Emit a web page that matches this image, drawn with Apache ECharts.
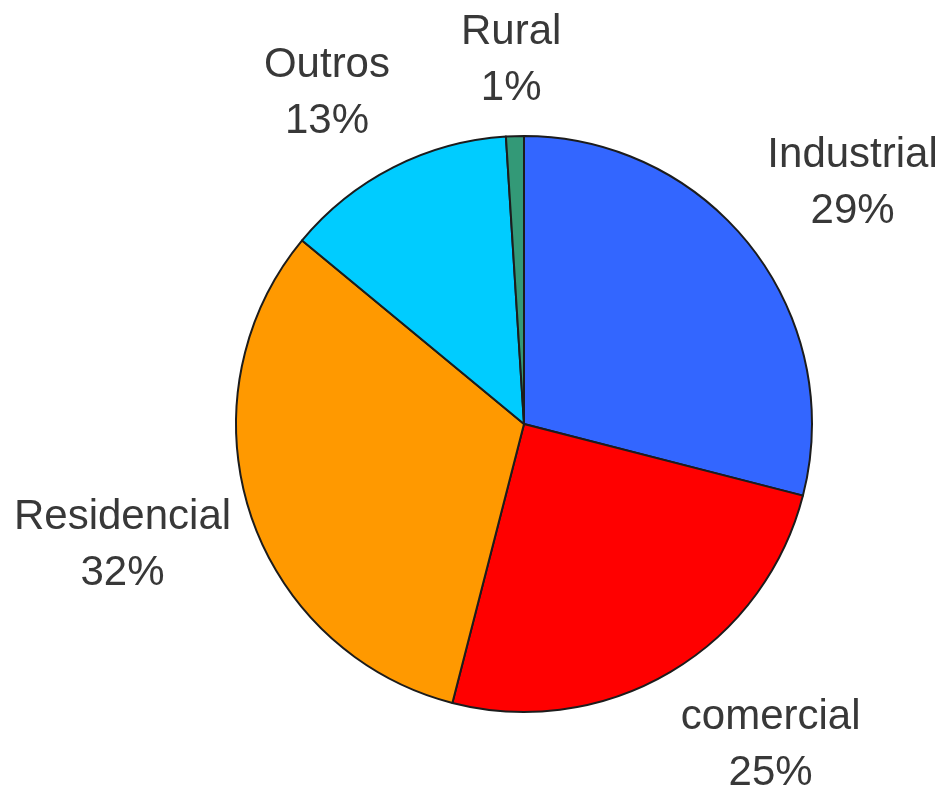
<!DOCTYPE html>
<html>
<head>
<meta charset="utf-8">
<title>Consumo por classe</title>
<script src="https://cdn.jsdelivr.net/npm/echarts@6/dist/echarts.min.js"></script>
<style>
  html, body { margin: 0; padding: 0; background: #ffffff; }
  #chart { width: 942px; height: 792px; }
</style>
</head>
<body>
<div id="chart"></div>
<script>
// Share of consumption by class (percent), clockwise from 12 o'clock
const categories = ['Industrial', 'comercial', 'Residencial', 'Outros', 'Rural'];
const shares = [29, 25, 32, 13, 1];
const sliceColors = ['#3366ff', '#ff0000', '#ff9900', '#00ccff', '#339977'];

const CX = 524, CY = 424, R = 288;
const START_ANGLE = 90;
const LABEL_GAP = 20;

const total = shares.reduce((a, b) => a + b, 0);
const cumulative = [];
shares.reduce((acc, v, i) => { cumulative[i] = acc; return acc + v; }, 0);

const clamp = v => Math.max(-1, Math.min(1, v));

const chart = echarts.init(document.getElementById('chart'), null, { renderer: 'canvas' });

chart.setOption({
  backgroundColor: '#ffffff',
  animation: false,
  series: [{
    type: 'pie',
    center: [CX, CY],
    radius: R,
    startAngle: START_ANGLE,
    clockwise: true,
    avoidLabelOverlap: false,
    data: categories.map((name, i) => ({
      name: name,
      value: shares[i],
      itemStyle: { color: sliceColors[i] }
    })),
    itemStyle: { borderColor: '#1c1c1c', borderWidth: 2 },
    emphasis: { disabled: true },
    label: {
      show: true,
      position: 'outside',
      formatter: p => p.name + '\n' + p.value + '%',
      fontFamily: 'Liberation Sans, Arial, sans-serif',
      fontSize: 42,
      lineHeight: 56,
      color: '#383838',
      align: 'center'
    },
    labelLine: { show: false },
    // Anchor each label box just outside the rim on the slice's mid-angle ray;
    // the box hangs off that point toward the side the ray points to.
    labelLayout: function (params) {
      const i = params.dataIndex;
      const frac = (cumulative[i] + shares[i] / 2) / total;
      const theta = (START_ANGLE - frac * 360) * Math.PI / 180;
      const dx = Math.cos(theta), dy = -Math.sin(theta);
      const w = params.labelRect.width, h = params.labelRect.height;
      const px = CX + dx * (R + LABEL_GAP);
      const py = CY + dy * (R + LABEL_GAP);
      return {
        x: px + clamp(2 * dx) * w / 2,
        y: py + clamp(1.5 * dy) * h / 2,
        align: 'center',
        verticalAlign: 'middle'
      };
    }
  }]
});
</script>
</body>
</html>
